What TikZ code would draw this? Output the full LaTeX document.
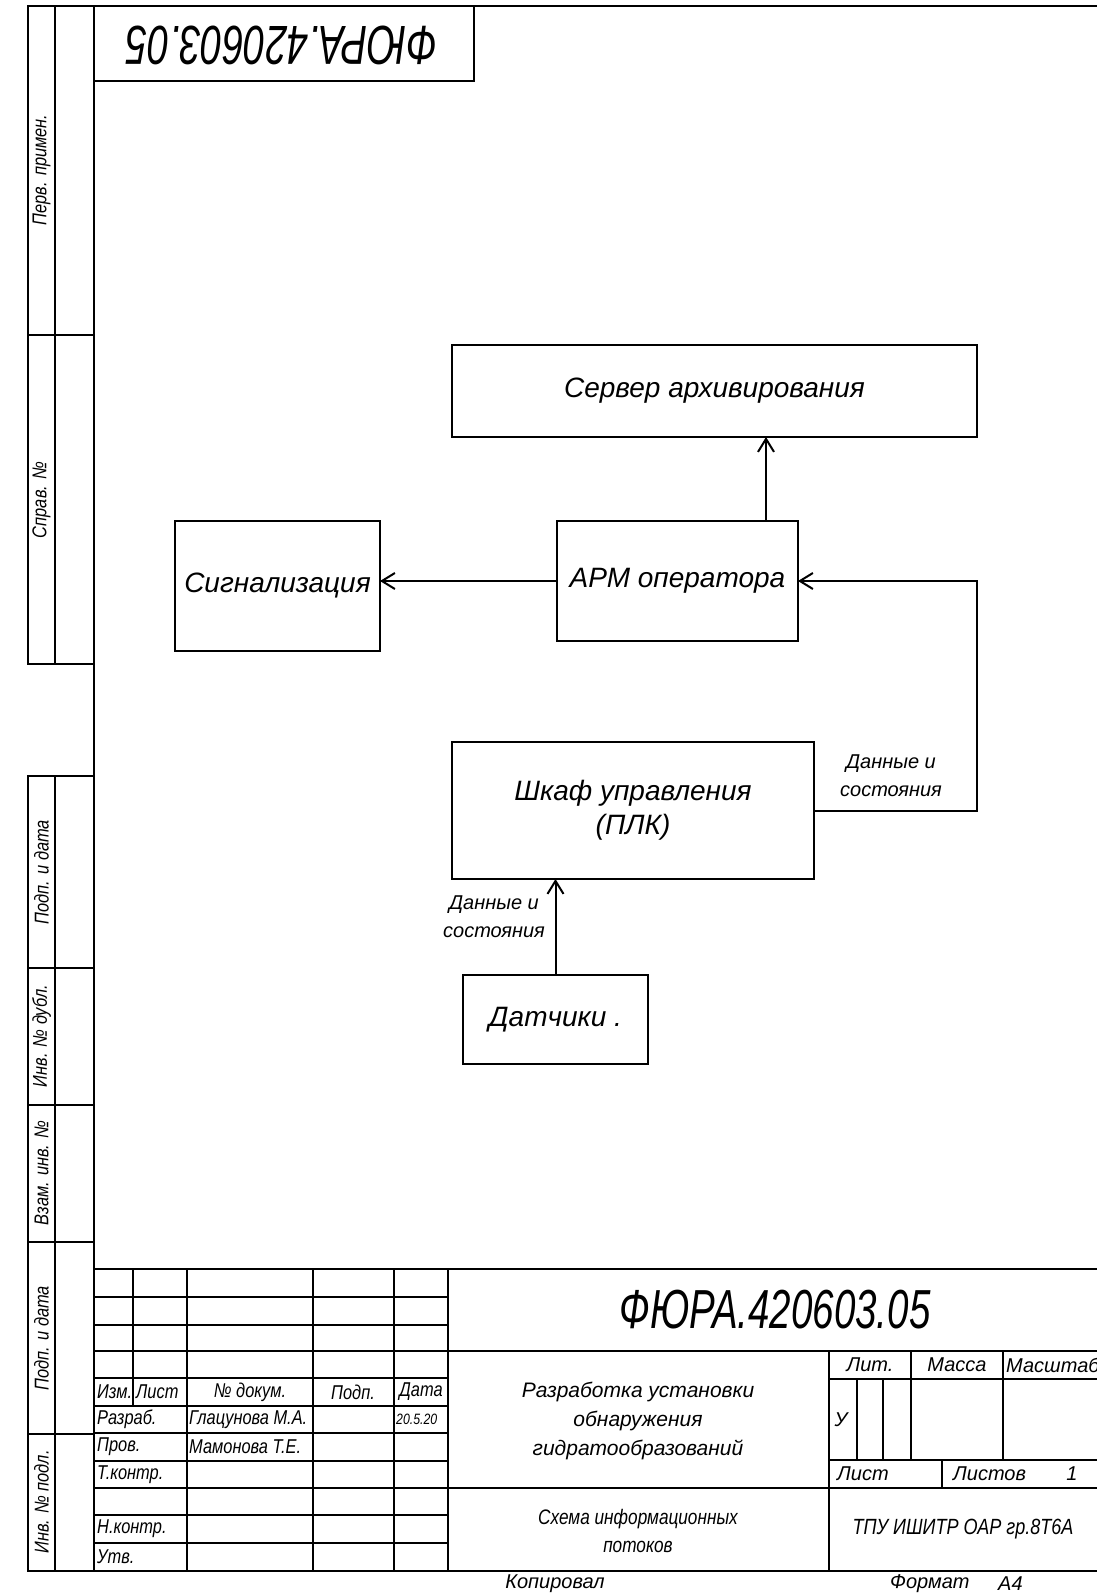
\documentclass[tikz,border=0pt]{standalone}
\usepackage{fontspec}
\setmainfont{Liberation Sans}
\newfontfamily\narrowfont[FakeStretch=0.82]{Liberation Sans}
\newfontfamily\codefont[FakeStretch=0.7]{Liberation Sans}
\usetikzlibrary{arrows.meta}

\begin{document}
\begin{tikzpicture}[x=1pt,y=-1pt,
	block/.style={draw,line width=2.5pt,outer sep=0pt,inner sep=4pt,align=center,
		font=\itshape\fontsize{28}{34}\selectfont},
	flow/.style={line width=2pt,-{Straight Barb[length=13pt,width=16pt,line width=2pt]}},
	note/.style={inner sep=0pt,align=center,font=\itshape\fontsize{20}{28}\selectfont},
	cell/.style={inner sep=0pt,font=\itshape\fontsize{20}{24}\selectfont},
	narrowcell/.style={inner sep=0pt,font=\narrowfont\itshape\fontsize{20}{24}\selectfont},
	codetext/.style={inner sep=0pt,font=\codefont\itshape\fontsize{55}{60}\selectfont},
	frameline/.style={line width=2.8pt},
	gridline/.style={line width=1.8pt}]

	\clip (0,0) rectangle (1097,1593);

	% frame and stamp
	\draw[frameline] (94,6) rectangle (1130,1571);
	\draw[frameline] (94,6) rectangle (474,81);
	\node[codetext,rotate=180] (stamp) at (282,45) {ФЮРА.420603.05};

	% left strip
	\draw[frameline] (28,6) rectangle (94,664);
	\draw[frameline] (55,6) -- (55,664);
	\draw[frameline] (28,335) -- (94,335);
	\draw[frameline] (28,776) rectangle (94,1571);
	\draw[frameline] (55,776) -- (55,1571);
	\foreach \y in {968,1105,1242,1434}
		\draw[frameline] (28,\y) -- (94,\y);
	\foreach \y/\t [count=\i] in {170/Перв. примен., 500/Справ. №, 872/Подп. и дата,
		1036/Инв. № дубл., 1173/Взам. инв. №, 1338/Подп. и дата, 1502/Инв. № подл.}
		\node[narrowcell,rotate=90] (side\i) at (41.5,\y) {\t};

	% blocks
	\node[block,minimum width=525pt,minimum height=92pt] (server) at (714.5,391) {Сервер архивирования};
	\node[block,minimum width=241pt,minimum height=120pt] (arm) at (677.5,581) {АРМ оператора};
	\node[block,minimum width=205pt,minimum height=130pt] (signal) at (277.5,586) {Сигнализация};
	\node[block,minimum width=362pt,minimum height=137pt] (plc) at (633,810.5) {Шкаф управления\\(ПЛК)};
	\node[block,minimum width=185pt,minimum height=89pt] (sensors) at (555.5,1019.5) {Датчики .};

	% flows
	\coordinate (armtop) at ([xshift=88.5pt]arm.north);
	\coordinate (turn) at (977,810.5);
	\draw[flow] (armtop) -- (armtop |- server.south);
	\draw[flow] (arm.west) -- (arm.west -| signal.east);
	\draw[flow] (plc.east) -- (turn) |- (arm.east);
	\draw[flow] (sensors.north) -- (sensors.north |- plc.south);
	\node[note] (plcout) at (891,776) {Данные и\\состояния};
	\node[note] (sensout) at (494,917) {Данные и\\состояния};

	% title block, left part
	\draw[frameline] (94,1269) -- (1130,1269);
	\foreach \y in {1297,1325,1351,1378,1406,1433,1461,1488,1515,1543}
		\draw[gridline] (94,\y) -- (448,\y);
	\draw[frameline] (133,1269) -- (133,1406);
	\foreach \x in {187,313,394,448}
		\draw[frameline] (\x,1269) -- (\x,1571);
	\node[narrowcell,anchor=west] (izm) at (97,1392) {Изм.};
	\node[narrowcell,anchor=west] (sheet) at (136,1392) {Лист};
	\node[narrowcell] (docno) at (250,1392) {№ докум.};
	\node[narrowcell] (sign) at (353,1392) {Подп.};
	\node[narrowcell] (date) at (421,1392) {Дата};
	\node[narrowcell,anchor=west] (razrab) at (97,1419.5) {Разраб.};
	\node[narrowcell,anchor=west] (razrabname) at (189,1419.5) {Глацунова М.А.};
	\node[narrowcell,anchor=west,font=\narrowfont\itshape\fontsize{15}{18}\selectfont] (razrabdate) at (396,1419.5) {20.5.20};
	\node[narrowcell,anchor=west] (prov) at (97,1447) {Пров.};
	\node[narrowcell,anchor=west] (provname) at (189,1447) {Мамонова Т.Е.};
	\node[narrowcell,anchor=west] (tkontr) at (97,1474.5) {Т.контр.};
	\node[narrowcell,anchor=west] (nkontr) at (97,1529) {Н.контр.};
	\node[narrowcell,anchor=west] (utv) at (97,1557) {Утв.};

	% title block, right part
	\draw[frameline] (448,1351) -- (1130,1351);
	\draw[frameline] (448,1488) -- (1130,1488);
	\draw[frameline] (829,1351) -- (829,1571);
	\draw[gridline] (829,1379) -- (1130,1379);
	\draw[frameline] (829,1460) -- (1130,1460);
	\draw[gridline] (857,1379) -- (857,1460);
	\draw[gridline] (883,1379) -- (883,1460);
	\draw[frameline] (911,1351) -- (911,1460);
	\draw[frameline] (1003,1351) -- (1003,1460);
	\draw[frameline] (942,1460) -- (942,1488);
	\node[codetext] (code) at (775,1310) {ФЮРА.420603.05};
	\node[cell,align=center,font=\itshape\fontsize{21}{29}\selectfont] (title) at (638,1421)
		{Разработка установки\\обнаружения\\гидратообразований};
	\node[narrowcell,align=center,font=\narrowfont\itshape\fontsize{21}{28}\selectfont] (scheme) at (638,1531)
		{Схема информационных\\потоков};
	\node[cell] (lit) at (870,1365) {Лит.};
	\node[cell] (mass) at (957,1365) {Масса};
	\node[cell,anchor=west] (scale) at (1006,1365) {Масштаб};
	\node[cell] (letter) at (841,1420) {У};
	\node[cell,anchor=west] (sheetno) at (837,1474) {Лист};
	\node[cell,anchor=west] (sheets) at (953,1474) {Листов};
	\node[cell] (sheetsno) at (1072,1474) {1};
	\node[narrowcell,font=\narrowfont\itshape\fontsize{22}{26}\selectfont] (org) at (963,1529) {ТПУ ИШИТР ОАР гр.8Т6А};

	% below the frame
	\node[cell] (copied) at (555,1584) {Копировал};
	\node[cell,anchor=west] (format) at (890,1584) {Формат};
	\node[cell,anchor=west] (formatno) at (998,1584) {А4};

\end{tikzpicture}
\end{document}
